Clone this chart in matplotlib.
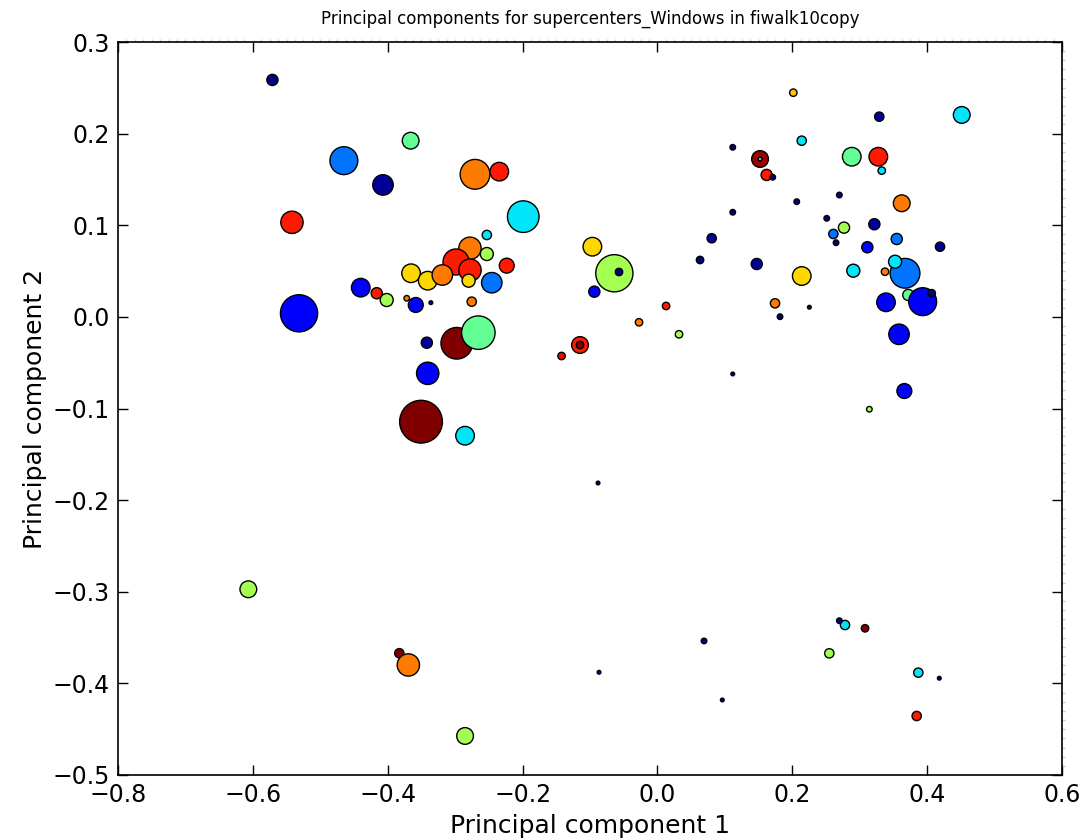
import matplotlib
matplotlib.use("Agg")
import matplotlib.pyplot as plt
from matplotlib.ticker import MultipleLocator
import numpy as np

# ---- data ----
pc1 = [-0.571, -0.366, -0.465, -0.407, -0.2705, -0.2345, -0.542, -0.199, -0.253, -0.278,
       -0.253, -0.2987, -0.278, -0.2235, -0.3654, -0.3407, -0.319, -0.280, -0.2457, -0.440,
       -0.4163, -0.4015, -0.3718, -0.3584, -0.336, -0.2754, -0.5315, -0.2976, -0.2656, -0.342,
       -0.3407, -0.3506, -0.2853, -0.1148, -0.1148, -0.1422,
       0.2015, 0.214, 0.1117, 0.1522, 0.1522, 0.162, 0.171, 0.2066, 0.1117, 0.0805,
       0.0632, 0.1473, 0.214, -0.0965, -0.0639, -0.057, -0.0936, 0.0128, -0.0273, 0.032,
       0.1744, 0.1818, 0.1117,
       0.329, 0.4513, 0.2882, 0.3276, 0.3327, 0.2698, 0.3623, 0.2511, 0.2767, 0.2609,
       0.2649, 0.3217, 0.3549, 0.3113, 0.4191, 0.3672, 0.3524, 0.3375, 0.2905, 0.3721,
       0.3934, 0.4068, 0.339, 0.3583, 0.3662, 0.3143, 0.2253,
       -0.0866, 0.0691, 0.0962, 0.2782, 0.2698, 0.3079, 0.2549, 0.3869, 0.418, 0.3845,
       -0.6067, -0.3828, -0.3694, -0.2853, -0.0881]
pc2 = [0.2586, 0.1923, 0.1705, 0.144, 0.1556, 0.1585, 0.1032, 0.1094, 0.0894, 0.0749,
       0.0686, 0.0599, 0.051, 0.0559, 0.0476, 0.0395, 0.0457, 0.0395, 0.0373, 0.0319,
       0.0258, 0.0184, 0.0203, 0.013, 0.0155, 0.0166, 0.0039, -0.0288, -0.0172, -0.0282,
       -0.0616, -0.1144, -0.1297, -0.0307, -0.0307, -0.0427,
       0.2447, 0.1923, 0.1851, 0.1723, 0.1723, 0.1549, 0.1524, 0.1257, 0.1142, 0.0858,
       0.0621, 0.0577, 0.0446, 0.0766, 0.0476, 0.049, 0.0275, 0.0119, -0.0059, -0.019,
       0.0148, 0.0002, -0.0623,
       0.2185, 0.2204, 0.1748, 0.1748, 0.1596, 0.133, 0.124, 0.1076, 0.0974, 0.0905,
       0.081, 0.1011, 0.085, 0.076, 0.0766, 0.0476, 0.0602, 0.0493, 0.0504, 0.0239,
       0.0166, 0.0258, 0.0159, -0.019, -0.0809, -0.1008, 0.0105,
       -0.3879, -0.3537, -0.4181, -0.3363, -0.3316, -0.3399, -0.3672, -0.3883, -0.3944, -0.4356,
       -0.2973, -0.3671, -0.3799, -0.4574, -0.1813]
# colour value (jet colormap, 0..1)
colour_value = [0.0, 0.47, 0.24, 0.02, 0.78, 0.88, 0.88, 0.35, 0.35, 0.78,
                0.55, 0.88, 0.88, 0.88, 0.68, 0.68, 0.78, 0.68, 0.24, 0.12,
                0.88, 0.55, 0.78, 0.12, 0.0, 0.78, 0.12, 1.0, 0.47, 0.02,
                0.12, 1.0, 0.35, 0.88, 1.0, 0.9,
                0.7, 0.35, 0.0, 0.97, 0.4, 0.88, 0.0, 0.0, 0.0, 0.02,
                0.0, 0.02, 0.68, 0.68, 0.55, 0.0, 0.12, 0.88, 0.78, 0.55,
                0.78, 0.0, 0.0,
                0.02, 0.35, 0.47, 0.88, 0.35, 0.0, 0.78, 0.0, 0.55, 0.24,
                0.0, 0.02, 0.24, 0.12, 0.02, 0.24, 0.35, 0.78, 0.35, 0.47,
                0.12, 0.0, 0.12, 0.12, 0.12, 0.55, 0.0,
                0.0, 0.0, 0.0, 0.35, 0.02, 1.0, 0.55, 0.35, 0.0, 0.88,
                0.55, 1.0, 0.78, 0.55, 0.0]
# marker radius (pixels in reference)
radius = [6, 9, 15, 11, 16, 10, 12, 17, 5, 12,
          7, 14, 12, 8, 10, 10, 11, 7, 11, 10,
          6, 7, 3, 8, 2, 5, 20, 17, 18, 6,
          12, 23, 10, 9, 4, 4,
          4, 5, 3, 9, 2, 6, 3, 3, 3, 5,
          4, 6, 10, 10, 20, 4, 6, 4, 4, 4,
          5, 3, 2,
          5, 9, 10, 10, 4, 3, 9, 3, 6, 5,
          3, 6, 6, 6, 5, 16, 7, 4, 7, 6,
          15, 4, 10, 11, 8, 3, 2,
          2, 3, 2, 5, 3, 4, 5, 5, 2, 5,
          9, 5, 12, 9, 2]

title = "Principal components for supercenters_Windows in fiwalk10copy"
xlabel = "Principal component 1"
ylabel = "Principal component 2"

dpi = 100
fig = plt.figure(figsize=(10.88, 8.4), dpi=dpi)
ax = fig.add_axes([118/1088, 65/840, 944/1088, 733/840])

r = np.array(radius, dtype=float) * 0.93
sizes = (2 * r * 72.0 / dpi) ** 2
ax.scatter(pc1, pc2, s=sizes, c=colour_value, cmap="jet", vmin=0, vmax=1,
           edgecolors="black", linewidths=1.0)

ax.set_xlim(-0.8, 0.6)
ax.set_ylim(-0.5, 0.3)
ax.xaxis.set_major_locator(MultipleLocator(0.2))
ax.yaxis.set_major_locator(MultipleLocator(0.1))
ax.tick_params(axis="both", which="major", direction="in", length=7, width=1,
               labelsize=17, top=True, right=True, pad=6)
ax.xaxis.set_minor_locator(MultipleLocator(0.0125))
ax.yaxis.set_minor_locator(MultipleLocator(0.01))
ax.tick_params(axis="both", which="minor", direction="out", length=2, width=1,
               color="#cccccc", top=True, right=True, bottom=False, left=False)
for sp in ax.spines.values():
    sp.set_linewidth(1.2)

ax.set_title(title, fontsize=12, pad=13)
ax.set_xlabel(xlabel, fontsize=18, labelpad=5)
ax.set_ylabel(ylabel, fontsize=18, labelpad=4)

fig.savefig("out.png", dpi=dpi)
